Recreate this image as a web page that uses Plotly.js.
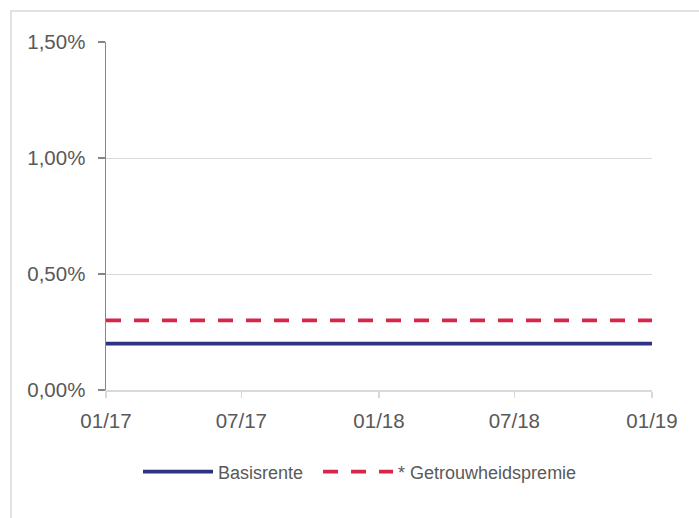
<!DOCTYPE html>
<html>
<head>
<meta charset="utf-8">
<script src="https://cdn.plot.ly/plotly-3.0.1.min.js"></script>
<style>html,body{margin:0;padding:0;background:#fff;}#chart{width:699px;height:518px;}</style>
</head>
<body>
<div id="chart"></div>
<script>
const dates = ["2017-01-01", "2017-07-01", "2018-01-01", "2018-07-01", "2019-01-01"];
const tickLabels = ["01/17", "07/17", "01/18", "07/18", "01/19"];
const basisrente = [0.002, 0.002, 0.002, 0.002, 0.002];
const getrouwheidspremie = [0.003, 0.003, 0.003, 0.003, 0.003];
const yTicks = [0, 0.005, 0.01, 0.015];
const yTickLabels = ["0,00%", "0,50%", "1,00%", "1,50%"];

const W = 699, H = 518;
const L = 106, R = 47, T = 42, B = 128;
const pw = W - L - R, ph = H - T - B;
const px = v => (v - L) / pw;
const py = v => 1 - (v - T) / ph;

const traces = [
  {x: dates, y: basisrente, name: "Basisrente\u00a0\u00a0", type: "scatter", mode: "lines",
   line: {color: "#2e3280", width: 3.8}},
  {x: dates, y: getrouwheidspremie, name: "* Getrouwheidspremie", type: "scatter", mode: "lines",
   line: {color: "#d7264a", width: 3.8, dash: "15px,13px"}}
];

const layout = {
  width: W, height: H,
  margin: {l: L, r: R, t: T, b: B},
  paper_bgcolor: "#fff", plot_bgcolor: "#fff",
  font: {family: "Liberation Sans, Arial, sans-serif", color: "#595959", size: 20},
  showlegend: true,
  legend: {orientation: "h", x: px(360), xanchor: "center", y: py(472), yanchor: "middle",
           font: {size: 18, color: "#595959"}, itemwidth: 70, traceorder: "normal"},
  xaxis: {type: "date", range: [dates[0], dates[dates.length - 1]],
          tickvals: dates, ticktext: tickLabels,
          showgrid: false, zeroline: false, showline: true, linecolor: "#d9d9d9", linewidth: 1.5,
          ticks: "outside", ticklen: 6, tickcolor: "#d9d9d9", tickwidth: 1.5,
          ticklabelstandoff: 6,
          tickfont: {size: 20.5, color: "#595959"}},
  yaxis: {range: [0, 0.015], tickvals: yTicks, ticktext: yTickLabels,
          showgrid: true, gridcolor: "#d9d9d9", gridwidth: 1, zeroline: false,
          showline: true, linecolor: "#868686", linewidth: 1.5,
          ticks: "outside", ticklen: 7, tickcolor: "#868686", tickwidth: 1.5,
          ticklabelstandoff: 8,
          tickfont: {size: 20.5, color: "#595959"}},
  shapes: [
    {type: "rect", xref: "paper", yref: "paper", x0: px(11), x1: px(720), y0: py(11), y1: py(540),
     line: {color: "#d9d9d9", width: 1.5}, fillcolor: "rgba(0,0,0,0)", layer: "below"}
  ]
};

Plotly.newPlot("chart", traces, layout, {displayModeBar: false, staticPlot: true});
</script>
</body>
</html>
